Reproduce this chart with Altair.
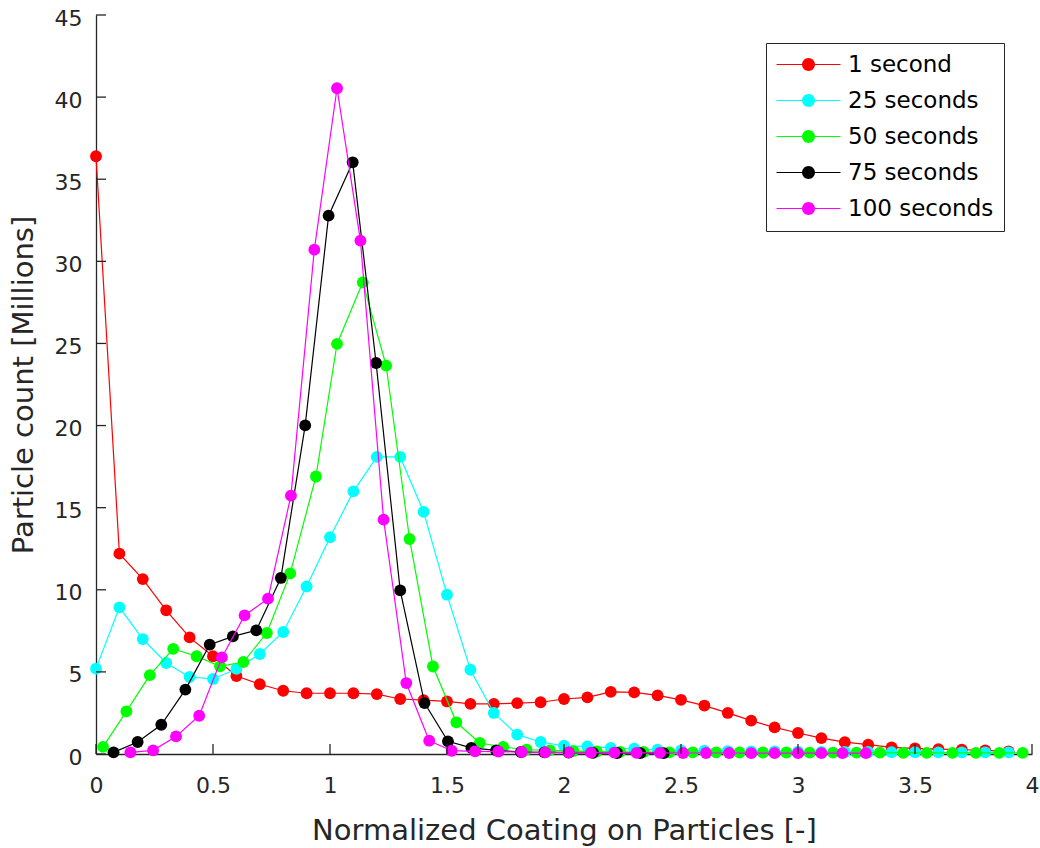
import math
import altair as alt
import pandas as pd

# Series labels and MATLAB-style colours
series_names = ["1 second", "25 seconds", "50 seconds", "75 seconds", "100 seconds"]
series_colors = ["#ff0000", "#00ffff", "#00ff00", "#000000", "#ff00ff"]

# Normalized coating (x) and particle counts in millions (y) for each time
coating_1s = [0.0, 0.1, 0.2, 0.3, 0.4, 0.5, 0.6, 0.7, 0.8, 0.9,
              1.0, 1.1, 1.2, 1.3, 1.4, 1.5, 1.6, 1.7, 1.8, 1.9,
              2.0, 2.1, 2.2, 2.3, 2.4, 2.5, 2.6, 2.7, 2.8, 2.9,
              3.0, 3.1, 3.2, 3.3, 3.4, 3.5, 3.6, 3.7, 3.8, 3.9]
count_1s = [36.4, 12.2, 10.65, 8.75, 7.1, 5.95, 4.75, 4.25, 3.85, 3.7,
            3.7, 3.7, 3.65, 3.35, 3.28, 3.2, 3.05, 3.05, 3.1, 3.15,
            3.35, 3.45, 3.78, 3.75, 3.57, 3.3, 2.95, 2.5, 2.03, 1.62,
            1.28, 0.97, 0.72, 0.57, 0.4, 0.34, 0.3, 0.26, 0.22, 0.16]

coating_25s = [0.0, 0.1, 0.2, 0.3, 0.4, 0.5, 0.6, 0.7, 0.8, 0.9,
               1.0, 1.1, 1.2, 1.3, 1.4, 1.5, 1.6, 1.7, 1.8, 1.9,
               2.0, 2.1, 2.2, 2.3, 2.4, 2.5, 2.6, 2.7, 2.8, 2.9,
               3.0, 3.1, 3.2, 3.3, 3.4, 3.5, 3.6, 3.7, 3.8, 3.9]
count_25s = [5.2, 8.93, 7.0, 5.54, 4.69, 4.57, 5.18, 6.09, 7.43, 10.2,
             13.2, 15.99, 18.09, 18.09, 14.74, 9.7, 5.13, 2.5, 1.18, 0.73,
             0.5, 0.46, 0.37, 0.32, 0.26, 0.22, 0.2, 0.18, 0.16, 0.15,
             0.14, 0.13, 0.12, 0.12, 0.11, 0.11, 0.1, 0.1, 0.1, 0.1]

coating_50s = [0.03, 0.13, 0.23, 0.33, 0.43, 0.53, 0.63, 0.73, 0.83, 0.94,
               1.03, 1.14, 1.24, 1.34, 1.44, 1.54, 1.64, 1.74, 1.84, 1.94,
               2.04, 2.14, 2.24, 2.34, 2.45, 2.55, 2.65, 2.75, 2.85, 2.95,
               3.05, 3.15, 3.25, 3.35, 3.45, 3.55, 3.66, 3.76, 3.86, 3.96]
count_50s = [0.43, 2.6, 4.8, 6.4, 5.95, 5.34, 5.6, 7.37, 11.0, 16.9,
             24.97, 28.72, 23.65, 13.09, 5.33, 1.93, 0.67, 0.43, 0.26, 0.22,
             0.18, 0.15, 0.13, 0.12, 0.1, 0.1, 0.1, 0.09, 0.09, 0.09,
             0.08, 0.08, 0.08, 0.08, 0.07, 0.07, 0.07, 0.07, 0.07, 0.07]

coating_75s = [0.075, 0.178, 0.279, 0.382, 0.486, 0.585, 0.685, 0.79, 0.894, 0.994,
               1.097, 1.197, 1.3, 1.404, 1.504, 1.604, 1.71, 1.816, 1.916, 2.02,
               2.124, 2.227, 2.326, 2.426]
count_75s = [0.1, 0.73, 1.78, 3.92, 6.66, 7.16, 7.53, 10.72, 20.01, 32.78,
             36.03, 23.81, 9.96, 3.1, 0.77, 0.37, 0.22, 0.12, 0.1, 0.08,
             0.07, 0.06, 0.05, 0.05]

coating_100s = [0.147, 0.244, 0.342, 0.441, 0.538, 0.635, 0.735, 0.833, 0.933, 1.03,
                1.13, 1.229, 1.326, 1.424, 1.52, 1.62, 1.72, 1.82, 1.92, 2.02,
                2.115, 2.215, 2.31, 2.41, 2.509, 2.607, 2.706, 2.8, 2.9, 3.0,
                3.1, 3.19, 3.29]
count_100s = [0.1, 0.22, 1.07, 2.33, 5.88, 8.44, 9.46, 15.73, 30.71, 40.54,
              31.26, 14.27, 4.32, 0.81, 0.2, 0.16, 0.15, 0.12, 0.1, 0.1,
              0.08, 0.08, 0.07, 0.07, 0.06, 0.06, 0.06, 0.05, 0.05, 0.05,
              0.05, 0.05, 0.05]

x_ticks = [0, 0.5, 1, 1.5, 2, 2.5, 3, 3.5, 4]
y_ticks = [0, 5, 10, 15, 20, 25, 30, 35, 40, 45]

series_data = [
    (series_names[0], coating_1s, count_1s),
    (series_names[1], coating_25s, count_25s),
    (series_names[2], coating_50s, count_50s),
    (series_names[3], coating_75s, count_75s),
    (series_names[4], coating_100s, count_100s),
]

W, H = 936, 739
AXIS_COLOR = "#262626"
FONT = "DejaVu Sans"

x_scale = alt.Scale(domain=[0, 4], nice=False, zero=False)
y_scale = alt.Scale(domain=[0, 45], nice=False, zero=False)
color_scale = alt.Scale(domain=series_names, range=series_colors)

x_axis = alt.Axis(
    values=x_ticks, format="~g", grid=False, ticks=False, tickSize=0,
    domainColor=AXIS_COLOR, domainWidth=1.3,
    labelFont=FONT, labelFontSize=22, labelColor=AXIS_COLOR, labelPadding=21,
    labelFlush=False,
    title="Normalized Coating on Particles [-]",
    titleFont=FONT, titleFontSize=29, titleFontWeight="normal", titleColor=AXIS_COLOR,
    titleBaseline="alphabetic", titleY=85,
)
y_axis = alt.Axis(
    values=y_ticks, grid=False, ticks=False, tickSize=0,
    domainColor=AXIS_COLOR, domainWidth=1.3,
    labelFont=FONT, labelFontSize=22, labelColor=AXIS_COLOR, labelPadding=14,
    labelFlush=False, labelOffset=3,
    title="Particle count [Millions]",
    titleFont=FONT, titleFontSize=29, titleFontWeight="normal", titleColor=AXIS_COLOR,
    titleBaseline="alphabetic", titleX=-64,
)


def _poly(points):
    return "M" + "L".join(f"{px:.3f},{py:.3f}" for px, py in points)


# Legend symbol: a short line with a filled circle in the middle
_bar = [(-5.33, -0.1), (5.33, -0.1), (5.33, 0.1), (-5.33, 0.1), (-5.33, -0.1)]
_dot = [(1.08 * math.cos(2 * math.pi * k / 32), 1.08 * math.sin(2 * math.pi * k / 32))
        for k in range(33)]
legend_symbol = _poly(_bar) + _poly(_dot)

legend = alt.Legend(
    title=None, orient="none", legendX=670, legendY=28,
    symbolType=legend_symbol, symbolSize=144, symbolStrokeWidth=0,
    symbolOpacity=1, symbolOffset=21,
    labelFont=FONT, labelFontSize=23, labelColor="#000000", labelOffset=28,
    rowPadding=12, padding=10,
    strokeColor=AXIS_COLOR, fillColor="#ffffff",
)


def x_enc(f):
    return alt.X(f, scale=x_scale, axis=x_axis)


def y_enc(f):
    return alt.Y(f, scale=y_scale, axis=y_axis)


color_enc = alt.Color("series:N", scale=color_scale, legend=legend)

# Markers and connecting line for each series, series by series
layers = []
for name, xs, ys in series_data:
    df = pd.DataFrame({"series": name, "coating": xs, "count": ys})
    base = alt.Chart(df).encode(x=x_enc("coating:Q"), y=y_enc("count:Q"), color=color_enc)
    pts = base.mark_point(filled=True, shape="circle", size=140, opacity=1, strokeWidth=0)
    line = base.mark_line(strokeWidth=1.2)
    layers += [pts, line]

# Inward-pointing tick marks
ytick_rules = alt.Chart(pd.DataFrame({"v": y_ticks})).mark_rule(
    color=AXIS_COLOR, strokeWidth=1.3
).encode(
    y=y_enc("v:Q"),
    x=alt.value(0), x2=alt.value(10),
)
xtick_rules = alt.Chart(pd.DataFrame({"v": x_ticks})).mark_rule(
    color=AXIS_COLOR, strokeWidth=1.3
).encode(
    x=x_enc("v:Q"),
    y=alt.value(H), y2=alt.value(H - 10),
)

chart = alt.layer(*layers, ytick_rules, xtick_rules).properties(
    width=W, height=H,
    padding={"left": 96, "top": 15, "right": 8, "bottom": 94},
    autosize=alt.AutoSizeParams(type="none"),
    background="#ffffff",
).configure_view(stroke=None)

chart.save("out.html", embed_options={"renderer": "svg", "actions": False})
